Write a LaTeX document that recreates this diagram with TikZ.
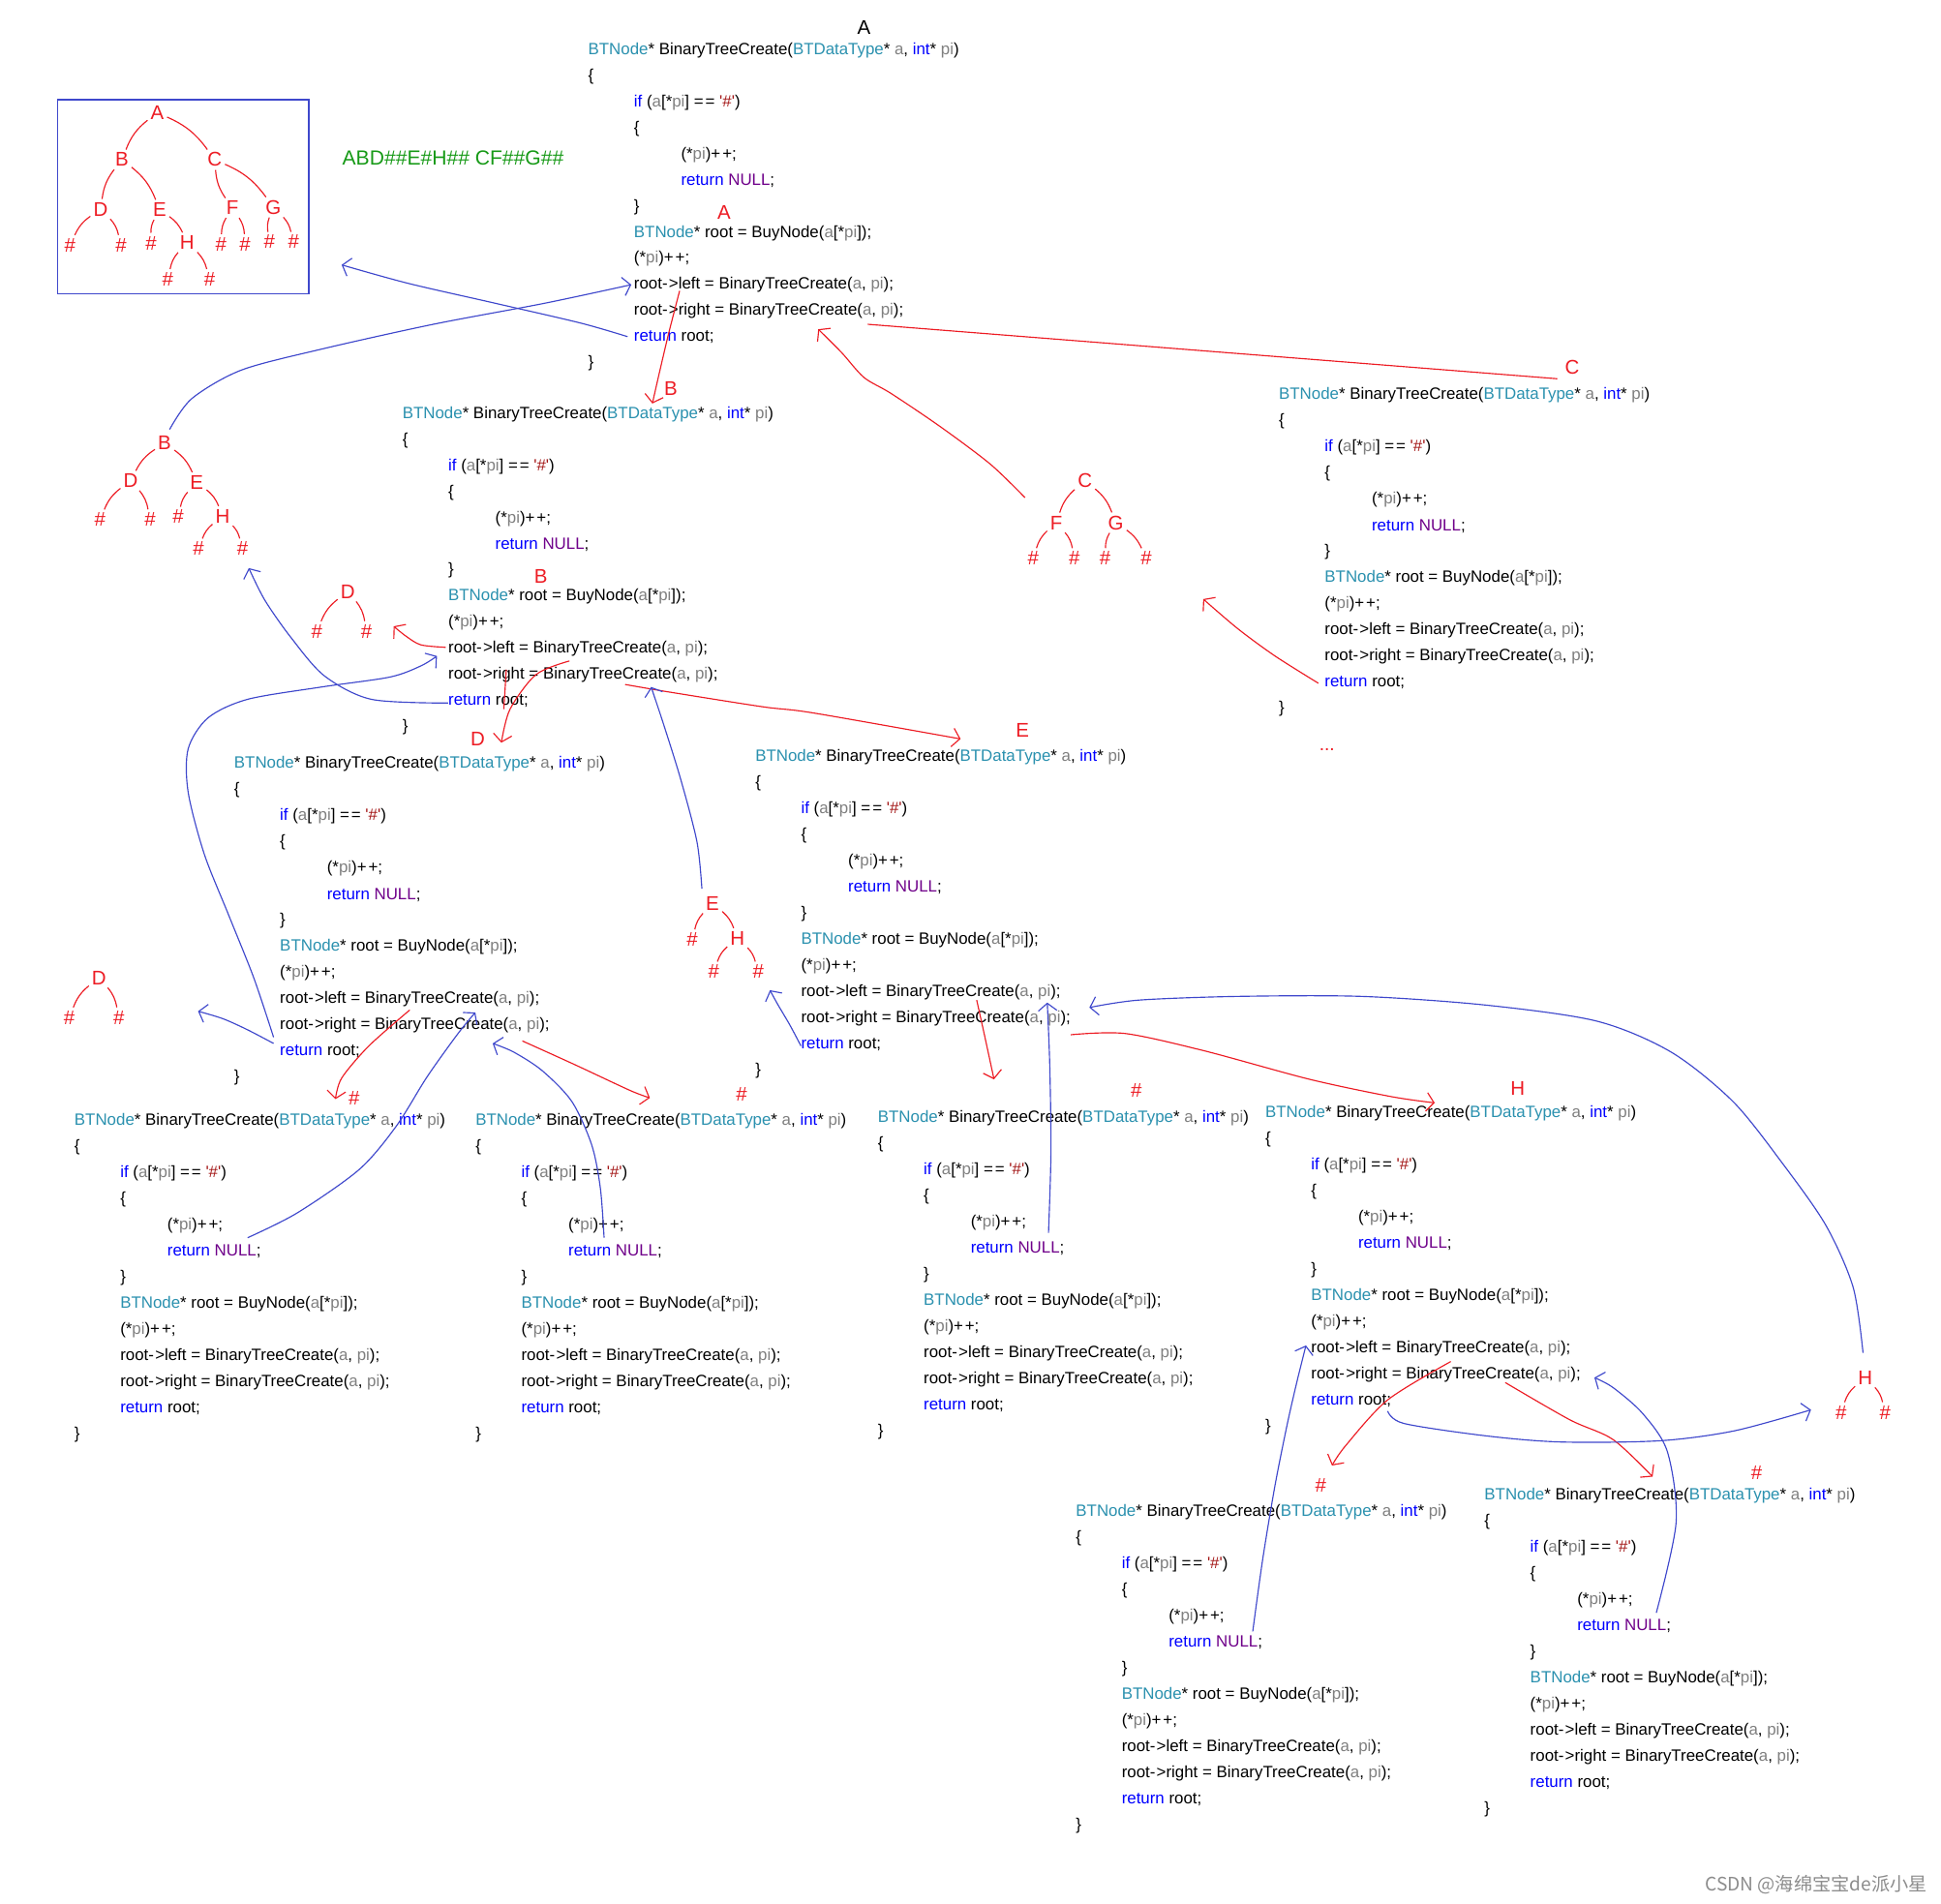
\documentclass[tikz,border=0pt]{standalone}
\usepackage{fontspec}
\setmainfont{Liberation Sans}
\newfontfamily\cjkfont{Noto Sans CJK SC}
\usetikzlibrary{arrows.meta}

\definecolor{vstype}{HTML}{2B91AF}
\definecolor{vskey}{HTML}{0000FF}
\definecolor{vsnull}{HTML}{6F008A}
\definecolor{vsparam}{HTML}{808080}
\definecolor{vsstr}{HTML}{A31515}
\definecolor{penred}{HTML}{ED1C24}
\definecolor{penblue}{HTML}{3F48CC}
\definecolor{pengreen}{HTML}{179A17}

\newcommand{\vsty}[1]{\textcolor{vstype}{#1}}
\newcommand{\vskw}[1]{\textcolor{vskey}{#1}}
\newcommand{\vspa}[1]{\textcolor{vsparam}{#1}}
\newcommand{\vsnul}[1]{\textcolor{vsnull}{#1}}
\newcommand{\arr}{-\kern1pt>}
\newcommand{\inc}{+\kern1.5pt+}
\newcommand{\eqq}{=\kern1.5pt=}

% one call of BinaryTreeCreate: name, left x, y of first line
\newcommand{\codeblk}[3]{%
\begin{scope}[shift={(#2,#3)}]
\node[code] (#1-0) at (0,0) {\vsty{BTNode}* BinaryTreeCreate(\vsty{BTDataType}* \vspa{a}, \vskw{int}* \vspa{pi})};
\node[code] (#1-1) at (0,21.1) {\{};
\node[code] (#1-2) at (37,42.2) {\vskw{if} (\vspa{a}[*\vspa{pi}] \eqq{} \textcolor{vsstr}{\textquotesingle\#\textquotesingle})};
\node[code] (#1-3) at (37,63.3) {\{};
\node[code] (#1-4) at (75,84.4) {(*\vspa{pi})\inc;};
\node[code] (#1-5) at (75,105.5) {\vskw{return} \vsnul{NULL};};
\node[code] (#1-6) at (37,126.6) {\}};
\node[code] (#1-7) at (37,147.7) {\vsty{BTNode}* root = BuyNode(\vspa{a}[*\vspa{pi}]);};
\node[code] (#1-8) at (37,168.8) {(*\vspa{pi})\inc;};
\node[code] (#1-9) at (37,189.9) {root\arr left = BinaryTreeCreate(\vspa{a}, \vspa{pi});};
\node[code] (#1-10) at (37,211) {root\arr right = BinaryTreeCreate(\vspa{a}, \vspa{pi});};
\node[code] (#1-11) at (37,232.1) {\vskw{return} root;};
\node[code] (#1-12) at (0,253.2) {\}};
\end{scope}}

\tikzset{
  code/.style={anchor=west, inner sep=0pt, yshift=-1.5pt, font=\fontsize{13.2}{15}\selectfont},
  tl/.style={text=penred, inner sep=1.5pt, font=\fontsize{16}{18}\selectfont},
  lbl/.style={text=penred, inner sep=1pt, font=\fontsize{16}{18}\selectfont},
  br/.style={penred, line width=0.9pt, shorten <=1pt, shorten >=1pt},
  rpen/.style={penred, line width=0.9pt},
  bpen/.style={penblue, line width=0.9pt},
  >={Straight Barb[length=6pt,width=15pt]}
}

\begin{document}
\begin{tikzpicture}[x=1pt,y=-1pt]
%\draw [help lines,black!20!white] (0,0) grid[step=100] (1568,1538);
\useasboundingbox[fill=white] (0,0) rectangle (1568,1538);

\codeblk{A}{475}{39}
\codeblk{B}{325}{333}
\codeblk{C}{1033}{318}
\codeblk{D}{189}{616}
\codeblk{E}{610}{610}
\codeblk{DL}{60}{904}
\codeblk{DR}{384}{904}
\codeblk{EL}{709}{902}
\codeblk{H}{1022}{898}
\codeblk{HL}{869}{1220}
\codeblk{HR}{1199}{1207}

\node[font=\fontsize{16}{18}\selectfont, inner sep=0pt] (topA) at (698,22) {A};
\node[text=pengreen, font=\fontsize{16.5}{18}\selectfont] (preorder) at (366,128) {ABD\#\#E\#H\#\# CF\#\#G\#\#};
\node[text=black!45, font=\cjkfont\fontsize{15}{17}\selectfont, anchor=east, inner sep=0pt] (mark) at (1557,1523) {CSDN @海绵宝宝de派小星};

% whole tree
\draw[bpen] (46.5,80.5) rectangle (249.5,237.5);
\node[tl] (kA) at (127,91) {A};
\node[tl] (kB) at (98.5,129) {B};
\node[tl] (kC) at (173.4,129) {C};
\node[tl] (kD) at (81.3,169) {D};
\node[tl] (kE) at (129,169.5) {E};
\node[tl] (kF) at (187.7,168) {F};
\node[tl] (kG) at (220.8,167.4) {G};
\node[tl] (kH) at (151.2,196) {H};
\node[tl] (k1) at (56.6,198) {\#};
\node[tl] (k2) at (97.8,198) {\#};
\node[tl] (k3) at (122,196.3) {\#};
\node[tl] (k4) at (178.6,197.3) {\#};
\node[tl] (k5) at (198,197.3) {\#};
\node[tl] (k6) at (217.7,195.5) {\#};
\node[tl] (k7) at (237.2,195.5) {\#};
\node[tl] (k8) at (135.6,225.5) {\#};
\node[tl] (k9) at (169.4,225.5) {\#};

% subtree B
\node[tl] (mB) at (133,358) {B};
\node[tl] (mD) at (105.6,388.4) {D};
\node[tl] (mE) at (159,389.7) {E};
\node[tl] (m1) at (80.8,419.7) {\#};
\node[tl] (m2) at (121.2,419.7) {\#};
\node[tl] (m3) at (143.9,417.6) {\#};
\node[tl] (mH) at (179.9,417) {H};
\node[tl] (m4) at (160.3,443.2) {\#};
\node[tl] (m5) at (196,443.2) {\#};

% subtree C
\node[tl] (cC) at (876.4,388.4) {C};
\node[tl] (cF) at (853.2,422.3) {F};
\node[tl] (cG) at (901.4,422.3) {G};
\node[tl] (c1) at (834.7,451) {\#};
\node[tl] (c2) at (868,451) {\#};
\node[tl] (c3) at (892.8,451) {\#};
\node[tl] (c4) at (926,451) {\#};

% subtree D, E, D, H
\node[tl] (dD) at (281,478) {D};
\node[tl] (d1) at (256,510) {\#};
\node[tl] (d2) at (296,510) {\#};
\node[tl] (eE) at (575.6,730) {E};
\node[tl] (e1) at (559.2,759) {\#};
\node[tl] (eH) at (595.7,758) {H};
\node[tl] (e2) at (576.6,785) {\#};
\node[tl] (e3) at (612.6,785) {\#};
\node[tl] (fD) at (80,790) {D};
\node[tl] (f1) at (56,822) {\#};
\node[tl] (f2) at (96,822) {\#};
\node[tl] (hH) at (1506.8,1113) {H};
\node[tl] (h1) at (1487.2,1141) {\#};
\node[tl] (h2) at (1522.9,1141) {\#};

\foreach \p/\c in {kA/kB,kB/kD,kC/kF,kD/k1,kE/k3,kF/k4,kG/k6,kH/k8,
                   mB/mD,mD/m1,mE/m3,mH/m4,cC/cF,cF/c1,cG/c3,
                   dD/d1,eE/e1,eH/e2,fD/f1,hH/h1}
	\draw[br] (\p) to[bend right=15] (\c);
\foreach \p/\c in {kA/kC,kB/kE,kC/kG,kD/k2,kE/kH,kF/k5,kG/k7,kH/k9,
                   mB/mE,mD/m2,mE/mH,mH/m5,cC/cG,cF/c2,cG/c4,
                   dD/d2,eE/eH,eH/e3,fD/f2,hH/h2}
	\draw[br] (\p) to[bend left=15] (\c);

% red labels
\node[lbl] (labA) at (585,172) {A};
\node[lbl] (labB) at (542,314) {B};
\node[lbl] (labC) at (1270,297) {C};
\node[lbl] (labB2) at (437,466) {B};
\node[lbl] (labD) at (386,597) {D};
\node[lbl] (labE) at (826,590) {E};
\node[lbl] (labN1) at (286,887) {\#};
\node[lbl] (labN2) at (599,884) {\#};
\node[lbl] (labN3) at (918,881) {\#};
\node[lbl] (labH) at (1226,879) {H};
\node[lbl] (labN4) at (1067,1200) {\#};
\node[lbl] (labN5) at (1419,1190) {\#};
\node[lbl, font=\fontsize{15}{17}\selectfont] (dots) at (1072,606) {...};

% calls (red)
\draw[rpen,->] plot[smooth] coordinates {(549,235) (540,270) (532,304) (527,326)};
\draw[rpen] (701,262) -- (1258,306);
\draw[rpen,->] plot[smooth] coordinates {(828,402) (800,375) (760,345) (720,318) (698,305) (680,285) (661,266)};
\draw[rpen,->] plot[smooth] coordinates {(1065,552) (1030,530) (1000,508) (972,484)};
\draw[rpen,->] plot[smooth] coordinates {(360,523) (340,521) (328,514) (318,506)};
\draw[rpen,->] plot[smooth] coordinates {(460,534) (433,545) (412,573) (405,600)};
\draw[rpen] (409,541) -- (407,573);
\draw[rpen,->] plot[smooth] coordinates {(505,553) (540,559) (616,571) (657,576) (776,597)};
\draw[rpen,->] plot[smooth] coordinates {(331,816) (298,845) (276,871) (271,888)};
\draw[rpen,->] plot[smooth] coordinates {(422,841) (464,860) (509,881) (525,887)};
\draw[rpen,->] plot[smooth] coordinates {(789,808) (795,835) (803,872)};
\draw[rpen,->] plot[smooth] coordinates {(865,836) (909,835) (973,849) (1058,872) (1124,886) (1159,891)};
\draw[rpen,->] plot[smooth] coordinates {(1172,1100) (1121,1131) (1087,1168) (1076,1184)};
\draw[rpen,->] plot[smooth] coordinates {(1216,1117) (1268,1147) (1303,1163) (1335,1193)};

% returns (blue)
\draw[bpen,->] plot[smooth] coordinates {(507,272) (469,261) (400,245) (330,229) (276,214)};
\draw[bpen,->] plot[smooth] coordinates {(137,347) (155,322) (195,299) (260,282) (350,262) (440,245) (510,230)};
\draw[bpen,->] plot[smooth] coordinates {(362,568) (300,565) (262,546) (235,515) (214,485) (201,459)};
\draw[bpen,->] plot[smooth] coordinates {(221,838) (205,790) (185,740) (165,690) (152,640) (152,605) (168,580) (200,565) (260,555) (315,547) (340,538) (353,530)};
\draw[bpen,->] plot[smooth] coordinates {(221,843) (200,832) (180,823) (160,817)};
\draw[bpen,->] plot[smooth] coordinates {(200,1000) (240,980) (290,945) (320,910) (345,870) (370,835) (384,818)};
\draw[bpen,->] plot[smooth] coordinates {(488,1000) (485,960) (478,925) (462,890) (438,865) (415,850) (398,843)};
\draw[bpen,->] plot[smooth] coordinates {(647,845) (638,828) (628,811) (622,800)};
\draw[bpen,->] plot[smooth] coordinates {(567,718) (563,680) (550,630) (536,585) (526,555)};
\draw[bpen,->] plot[smooth] coordinates {(847,996) (849,930) (848,860) (846,810)};
\draw[bpen,->] plot[smooth] coordinates {(1505,1093) (1497,1040) (1475,990) (1440,940) (1400,890) (1350,850) (1290,825) (1200,812) (1100,805) (1000,805) (920,808) (880,814)};
\draw[bpen,->] plot[smooth] coordinates {(1121,1140) (1134,1150) (1200,1160) (1261,1165) (1341,1164) (1401,1156) (1463,1139)};
\draw[bpen,->] plot[smooth] coordinates {(1012,1318) (1020,1260) (1030,1200) (1040,1150) (1048,1115) (1055,1087)};
\draw[bpen,->] plot[smooth] coordinates {(1338,1303) (1354,1230) (1347,1173) (1327,1142) (1303,1121) (1288,1113)};

\end{tikzpicture}
\end{document}
